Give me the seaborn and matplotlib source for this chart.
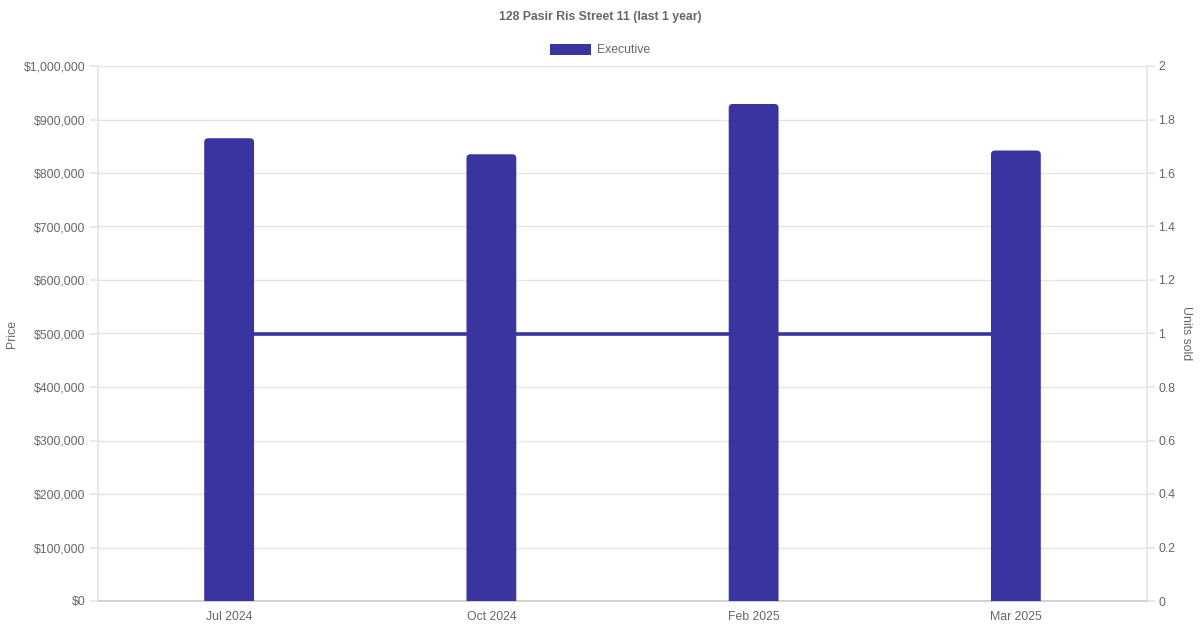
import matplotlib
matplotlib.use("Agg")
import matplotlib.pyplot as plt
import seaborn as sns
import pandas as pd
from matplotlib.patches import FancyBboxPatch, Patch
from matplotlib.ticker import FuncFormatter, MultipleLocator

# data
months = ["Jul 2024", "Oct 2024", "Feb 2025", "Mar 2025"]
prices = [865000, 835000, 929000, 842000]
units_sold = [1, 1, 1, 1]

BAR_COLOR = "#3a34a0"
TEXT_COLOR = "#666666"
GRID_COLOR = "#e5e5e5"

sns.set_theme(style="white")
plt.rcParams["font.family"] = ["Liberation Sans", "DejaVu Sans"]

df = pd.DataFrame({"month": months, "price": prices, "units": units_sold})

fig = plt.figure(figsize=(12, 6.3), dpi=100)
ax = fig.add_axes([98 / 1200, 1 - 601 / 630, (1147 - 98) / 1200, (601 - 66) / 630])
ax2 = ax.twinx()

# units line goes behind the bars, grid lives on the back axes so it stays under the line
ax.set_zorder(ax2.get_zorder() + 1)
ax.patch.set_visible(False)
sns.lineplot(data=df, x="month", y="units", ax=ax2, color=BAR_COLOR, linewidth=2.6, sort=False, zorder=3)

sns.barplot(data=df, x="month", y="price", ax=ax, color=BAR_COLOR, width=0.19, saturation=1)

# swap the square bars for ones with rounded tops
px_x = 1 / 262.25
px_y = 1e6 / 535
for p in list(ax.patches):
    x0, w, h = p.get_x(), p.get_width(), p.get_height()
    r = FancyBboxPatch((x0, -6 * px_y), w, h + 6 * px_y,
                       boxstyle=f"round,pad=0,rounding_size={4 * px_x}",
                       mutation_aspect=px_y / px_x,
                       facecolor=BAR_COLOR, edgecolor="none", zorder=3)
    p.remove()
    ax.add_patch(r)

ax.set_xlim(-0.5, 3.5)
ax.set_ylim(0, 1000000)
ax2.set_ylim(0, 2)
ax.yaxis.set_major_locator(MultipleLocator(100000))
ax.yaxis.set_major_formatter(FuncFormatter(lambda v, _: f"${v:,.0f}"))
ax2.yaxis.set_major_locator(MultipleLocator(0.2))
ax2.yaxis.set_major_formatter(FuncFormatter(lambda v, _: f"{v:g}"))

ax.grid(False)
ax2.grid(axis="y", color=GRID_COLOR, linewidth=1)
ax2.set_axisbelow(True)

for a in (ax, ax2):
    for s in a.spines.values():
        s.set_visible(False)
ax2.spines["left"].set_visible(True)
ax2.spines["left"].set_color(GRID_COLOR)
ax2.spines["right"].set_visible(True)
ax2.spines["right"].set_color(GRID_COLOR)
ax2.spines["bottom"].set_visible(True)
ax2.spines["bottom"].set_color("#cccccc")

ax.tick_params(axis="y", length=6, color=GRID_COLOR, labelsize=8.8, labelcolor=TEXT_COLOR, pad=3, left=True)
ax.tick_params(axis="x", length=0, labelsize=8.8, labelcolor=TEXT_COLOR, pad=7)
ax2.tick_params(axis="y", length=6, color=GRID_COLOR, labelsize=8.8, labelcolor=TEXT_COLOR, pad=2, right=True)

ax.set_xlabel("")
ax.set_ylabel("Price", color=TEXT_COLOR, fontsize=8.8, labelpad=4)
ax2.set_ylabel("Units sold", color=TEXT_COLOR, fontsize=8.8, rotation=270, labelpad=12)

fig.text(0.5, 1 - 17 / 630, "128 Pasir Ris Street 11 (last 1 year)", ha="center", va="center",
         fontsize=8.8, fontweight="bold", color=TEXT_COLOR)

fig.legend(handles=[Patch(facecolor=BAR_COLOR, edgecolor="none", label="Executive")],
           loc="center", bbox_to_anchor=(0.5, 1 - 50 / 630), frameon=False,
           handlelength=3.3, handleheight=1.0, fontsize=8.8, labelcolor=TEXT_COLOR,
           handletextpad=0.5)

fig.savefig("out.png", dpi=100)
